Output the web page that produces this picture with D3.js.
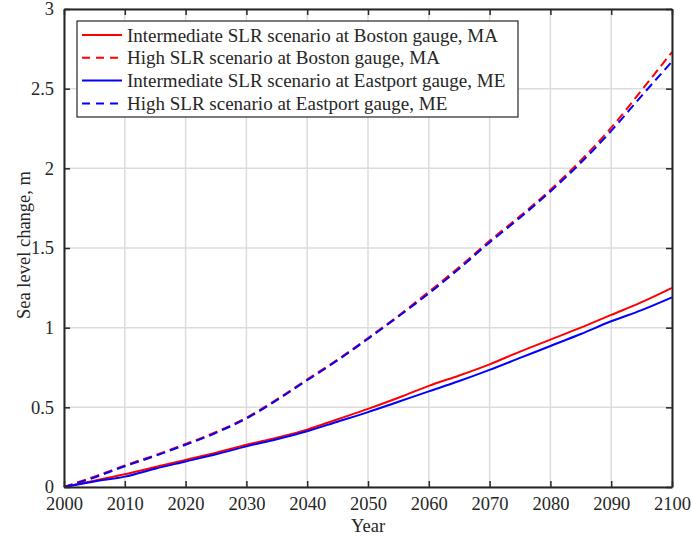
<!DOCTYPE html>
<html>
<head>
<meta charset="utf-8">
<script src="https://cdn.jsdelivr.net/npm/d3@7"></script>
<style>
  body { margin: 0; background: #fff; }
  svg text { font-family: "Liberation Serif", "Times New Roman", serif; fill: #262626; }
</style>
</head>
<body>
<script>
// years sampled every 5 years
var years = [2000, 2005, 2010, 2015, 2020, 2025, 2030, 2035, 2040, 2045, 2050,
             2055, 2060, 2065, 2070, 2075, 2080, 2085, 2090, 2095, 2100];

var bostonIntermediate = [0, 0.04, 0.08, 0.125, 0.17, 0.215, 0.265, 0.31, 0.36, 0.425, 0.49,
                          0.56, 0.635, 0.70, 0.77, 0.85, 0.925, 1.0, 1.08, 1.16, 1.25];
var bostonHigh = [0, 0.065, 0.135, 0.20, 0.27, 0.345, 0.435, 0.55, 0.675, 0.80, 0.935,
                  1.075, 1.225, 1.38, 1.545, 1.70, 1.865, 2.05, 2.255, 2.49, 2.73];
var eastportIntermediate = [0, 0.035, 0.065, 0.115, 0.16, 0.205, 0.255, 0.30, 0.35, 0.41, 0.47,
                            0.535, 0.60, 0.665, 0.735, 0.81, 0.885, 0.96, 1.04, 1.11, 1.19];
var eastportHigh = [0, 0.06, 0.13, 0.195, 0.265, 0.34, 0.43, 0.545, 0.67, 0.795, 0.93,
                    1.07, 1.215, 1.37, 1.535, 1.69, 1.855, 2.035, 2.235, 2.455, 2.67];

var xTicks = [2000, 2010, 2020, 2030, 2040, 2050, 2060, 2070, 2080, 2090, 2100];
var yTicks = [0, 0.5, 1, 1.5, 2, 2.5, 3];

var series = [
    {name: 'Intermediate SLR scenario at Boston gauge, MA', values: bostonIntermediate, color: '#ff0000', dash: null},
    {name: 'High SLR scenario at Boston gauge, MA', values: bostonHigh, color: '#ff0000', dash: '9,5'},
    {name: 'Intermediate SLR scenario at Eastport gauge, ME', values: eastportIntermediate, color: '#0000ff', dash: null},
    {name: 'High SLR scenario at Eastport gauge, ME', values: eastportHigh, color: '#0000ff', dash: '9,5'}
];

var width = 693, height = 537;
var margin = {top: 9, right: 21, bottom: 50, left: 64};
var w = width - margin.left - margin.right;
var h = height - margin.top - margin.bottom;

var svg = d3.select('body').append('svg')
    .attr('width', width)
    .attr('height', height);

var g = svg.append('g')
    .attr('transform', 'translate(' + margin.left + ',' + margin.top + ')');

var x = d3.scaleLinear().domain([2000, 2100]).range([0, w]);
var y = d3.scaleLinear().domain([0, 3]).range([h, 0]);

// grid
g.append('g').selectAll('line')
    .data(xTicks)
    .enter().append('line')
    .attr('x1', function(d) { return x(d); })
    .attr('x2', function(d) { return x(d); })
    .attr('y1', 0).attr('y2', h)
    .attr('stroke', '#dcdcdc').attr('stroke-width', 1.5);
g.append('g').selectAll('line')
    .data(yTicks)
    .enter().append('line')
    .attr('y1', function(d) { return y(d); })
    .attr('y2', function(d) { return y(d); })
    .attr('x1', 0).attr('x2', w)
    .attr('stroke', '#dcdcdc').attr('stroke-width', 1.5);

// lines
var line = d3.line()
    .x(function(d, i) { return x(years[i]); })
    .y(function(d) { return y(d); })
    .curve(d3.curveMonotoneX);

// draw high first so dashes sit on top like the picture
[1, 3, 0, 2].forEach(function(k) {
    var s = series[k];
    g.append('path')
        .datum(s.values)
        .attr('d', line)
        .attr('fill', 'none')
        .attr('stroke', s.color)
        .attr('stroke-width', 2)
        .attr('stroke-dasharray', s.dash);
});

// axes with inward ticks
function styleAxis(sel) {
    sel.select('.domain').attr('stroke', '#262626').attr('stroke-width', 2);
    sel.selectAll('.tick line').attr('stroke', '#262626').attr('stroke-width', 1.5);
    sel.selectAll('.tick text').style('font-size', '18.5px').attr('fill', '#262626');
}

var fmtY = function(d) { return d3.format('')(d); };

g.append('g')
    .attr('transform', 'translate(0,' + h + ')')
    .call(d3.axisBottom(x).tickValues(xTicks).tickFormat(d3.format('d'))
        .tickSizeInner(-6).tickSizeOuter(0).tickPadding(10))
    .call(styleAxis);
g.append('g')
    .call(d3.axisTop(x).tickValues(xTicks).tickFormat('')
        .tickSizeInner(-6).tickSizeOuter(0))
    .call(styleAxis);
g.append('g')
    .call(d3.axisLeft(y).tickValues(yTicks).tickFormat(fmtY)
        .tickSizeInner(-6).tickSizeOuter(0).tickPadding(10))
    .call(styleAxis);
g.append('g')
    .attr('transform', 'translate(' + w + ',0)')
    .call(d3.axisRight(y).tickValues(yTicks).tickFormat('')
        .tickSizeInner(-6).tickSizeOuter(0))
    .call(styleAxis);

// axis labels
svg.append('text')
    .attr('x', margin.left + w / 2)
    .attr('y', 532)
    .attr('text-anchor', 'middle')
    .style('font-size', '18.5px')
    .text('Year');
svg.append('text')
    .attr('transform', 'translate(30,' + (margin.top + h / 2 - 3) + ') rotate(-90)')
    .attr('text-anchor', 'middle')
    .style('font-size', '18.5px')
    .text('Sea level change, m');

// legend
var legend = g.append('g').attr('transform', 'translate(13,12)');
legend.append('rect')
    .attr('width', 441).attr('height', 96)
    .attr('fill', '#fff').attr('stroke', '#262626').attr('stroke-width', 1.2);
var rows = legend.selectAll('.row')
    .data(series)
    .enter().append('g')
    .attr('transform', function(d, i) { return 'translate(0,' + (14 + i * 22.8) + ')'; });
rows.append('line')
    .attr('x1', 5).attr('x2', 45)
    .attr('stroke', function(d) { return d.color; })
    .attr('stroke-width', 2)
    .attr('stroke-dasharray', function(d) { return d.dash ? '8,6' : null; });
rows.append('text')
    .attr('x', 50).attr('dy', '0.35em')
    .style('font-size', '19px')
    .text(function(d) { return d.name; });
</script>
</body>
</html>
